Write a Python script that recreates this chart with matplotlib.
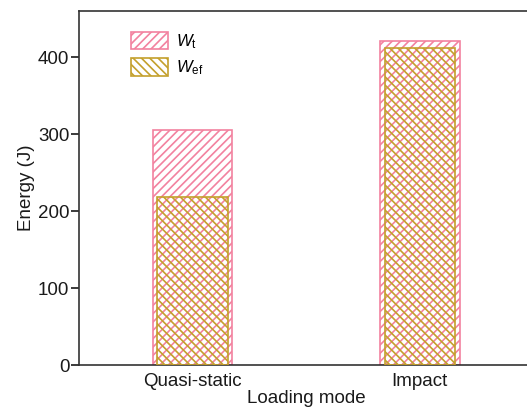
import matplotlib
matplotlib.use("Agg")
import matplotlib.pyplot as plt
import numpy as np

plt.rcParams["font.family"] = ["Liberation Sans", "DejaVu Sans"]
plt.rcParams["mathtext.fontset"] = "custom"
plt.rcParams["mathtext.it"] = "Liberation Sans:italic"
plt.rcParams["mathtext.rm"] = "Liberation Sans"
plt.rcParams["hatch.linewidth"] = 1.2

# energy per loading mode
modos = ["Quasi-static", "Impact"]
w_t = [306, 421]
w_ef = [219, 412]

rosa = "#f2829f"
ouro = "#c4a02c"
texto = "#1a1a1a"

fig = plt.figure(figsize=(5.27, 4.13), dpi=100)
ax = fig.add_axes([0.150, 0.116, 0.862, 0.857])

x = np.arange(1, len(modos) + 1)
ax.bar(x, w_t, width=0.35, facecolor="white", edgecolor=rosa, hatch="////",
       linewidth=1.2, label=r"$W_\mathrm{t}$", zorder=2)
ax.bar(x, w_ef, width=0.31, facecolor="none", edgecolor=ouro, hatch="\\\\\\\\",
       linewidth=1.2, label=r"$W_\mathrm{ef}$", zorder=3)

ax.set_xlim(0.5, 2.5)
ax.set_ylim(0, 460)
ax.set_xticks(x)
ax.set_xticklabels(modos)
ax.set_yticks([0, 100, 200, 300, 400])
ax.tick_params(axis="y", direction="out", length=6, width=1.2, labelsize=13.5,
               colors=texto, pad=1)
ax.tick_params(axis="x", length=0, labelsize=13.5, pad=6, colors=texto)
ax.set_xlabel("Loading mode", fontsize=13.5, labelpad=0, color=texto)
ax.set_ylabel("Energy (J)", fontsize=13.5, labelpad=2, color=texto)
for s in ax.spines.values():
    s.set_linewidth(1.2)
    s.set_color("#333333")

ax.legend(loc="upper left", bbox_to_anchor=(0.085, 0.98), frameon=False,
          fontsize=12, handlelength=2.2, handleheight=1.25, labelspacing=0.45,
          handletextpad=0.5, borderpad=0.3)

fig.savefig("out.png", dpi=100)
